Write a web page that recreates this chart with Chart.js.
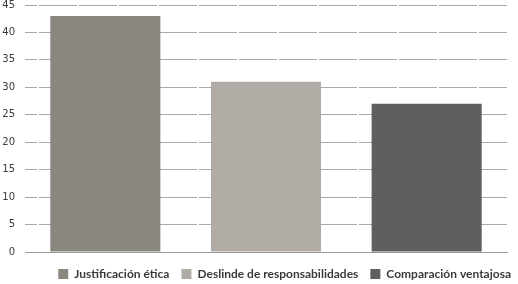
<!DOCTYPE html>
<html>
<head>
<meta charset="utf-8">
<script src="https://cdn.jsdelivr.net/npm/chart.js@4"></script>
<style>
  html, body { margin: 0; padding: 0; background: #fff; }
  #wrap { width: 518px; height: 284px; }
</style>
</head>
<body>
<div id="wrap"><canvas id="chart" width="518" height="284"></canvas></div>
<script>
// 系列名と値
const seriesNames = ['Justificación ética', 'Deslinde de responsabilidades', 'Comparación ventajosa'];
const seriesValues = [43, 31, 27];
const seriesColors = ['#8a877f', '#b0aca5', '#5f5f5f'];
const yTicks = [0, 5, 10, 15, 20, 25, 30, 35, 40, 45];

const datasets = seriesNames.map((name, i) => ({
  label: name,
  data: seriesNames.map((_, j) => (j === i ? seriesValues[i] : null)),
  backgroundColor: seriesColors[i],
  borderWidth: 0,
  skipNull: true,
  categoryPercentage: 1,
  barPercentage: 0.685,
  grouped: false,
}));

// 凡例の高さを固定し、位置を少し右下へずらす
const legendPlace = {
  id: 'legendPlace',
  beforeInit(chart) {
    const fit = chart.legend.fit;
    chart.legend.fit = function () {
      fit.call(this);
      this.height = 32;
    };
  },
  afterLayout(chart) {
    const lg = chart.legend;
    lg.left += 8;
    lg.right += 8;
    lg.top += 4;
    lg.bottom += 4;
  },
};

new Chart(document.getElementById('chart'), {
  type: 'bar',
  data: {
    labels: seriesNames,
    datasets: datasets,
  },
  plugins: [legendPlace],
  options: {
    responsive: false,
    animation: false,
    layout: { padding: { top: 5, right: 3, left: 0, bottom: 0 } },
    plugins: {
      tooltip: { enabled: false },
      legend: {
        position: 'bottom',
        align: 'end',
        labels: {
          boxWidth: 10,
          boxHeight: 10,
          padding: 12,
          color: '#3a3a3a',
          font: { family: 'Lato', size: 12, weight: 'bold' },
        },
      },
    },
    scales: {
      x: {
        ticks: { display: false },
        grid: { display: false },
        border: { display: true, color: '#9a9a9a', width: 1 },
        afterFit: (axis) => { axis.height = 0; axis.paddingLeft = 0; axis.paddingRight = 0; },
      },
      y: {
        min: 0,
        max: 45,
        afterBuildTicks: (axis) => { axis.ticks = yTicks.map(v => ({ value: v })); },
        afterFit: (axis) => { axis.width = 25; axis.paddingTop = 0; axis.paddingBottom = 0; },
        ticks: {
          color: '#3a3a3a',
          padding: 10,
          font: { family: 'DejaVu Sans', size: 10 },
        },
        grid: {
          color: '#a8a8a8',
          drawTicks: false,
        },
        border: { display: false, dash: [38, 2], dashOffset: 26 },
      },
      // 右側の余白用
      yRight: {
        position: 'right',
        ticks: { display: false },
        grid: { display: false },
        border: { display: false },
        afterFit: (axis) => { axis.width = 8; axis.paddingTop = 0; axis.paddingBottom = 0; },
      },
    },
  },
});
</script>
</body>
</html>
